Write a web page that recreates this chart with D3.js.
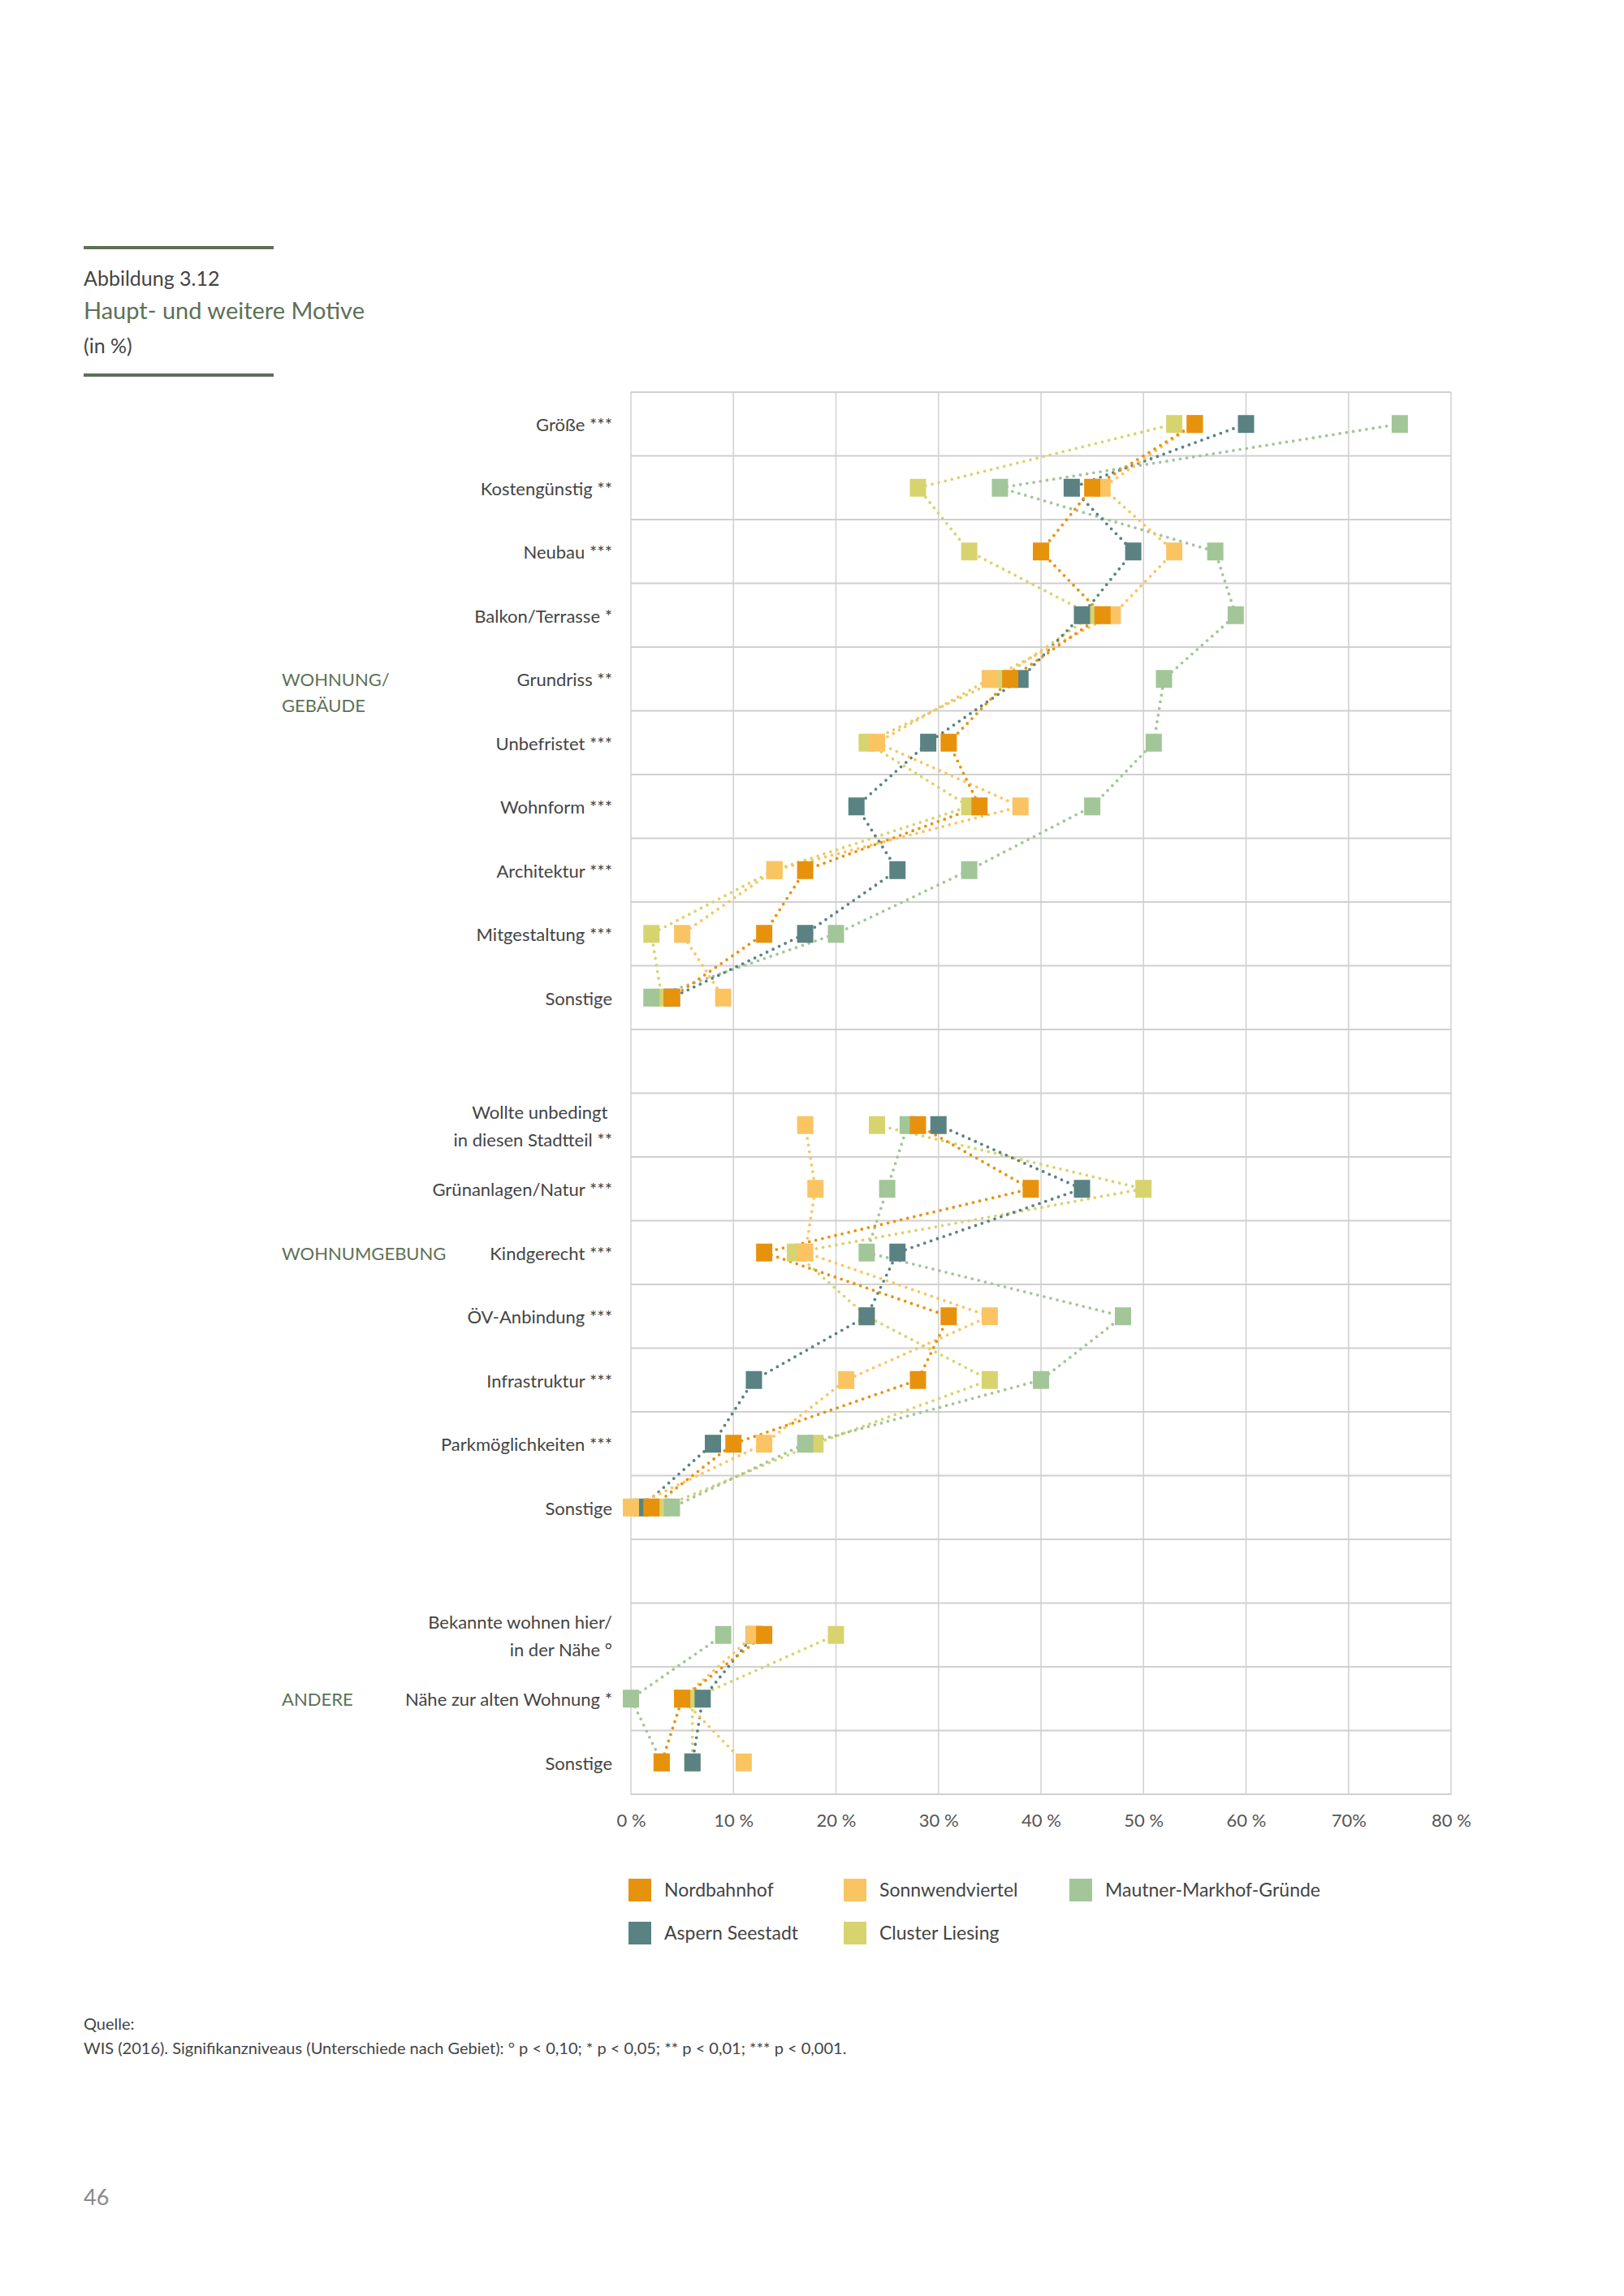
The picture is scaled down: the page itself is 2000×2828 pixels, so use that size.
<!DOCTYPE html>
<html>
<head>
<meta charset="utf-8">
<script src="https://cdn.jsdelivr.net/npm/d3@7"></script>
<style>
  body { margin: 0; background: #fff; }
  svg { display: block; font-family: Lato, "Open Sans", sans-serif; }
</style>
</head>
<body>
<svg id="page" width="2000" height="2828"></svg>
<script>
// categories top to bottom, "" = empty spacer row
const categories = [
  "Größe ***", "Kostengünstig **", "Neubau ***", "Balkon/Terrasse *", "Grundriss **",
  "Unbefristet ***", "Wohnform ***", "Architektur ***", "Mitgestaltung ***", "Sonstige",
  "",
  "Wollte unbedingt\u00a0|in diesen Stadtteil **", "Grünanlagen/Natur ***", "Kindgerecht ***",
  "ÖV-Anbindung ***", "Infrastruktur ***", "Parkmöglichkeiten ***", "Sonstige",
  "",
  "Bekannte wohnen hier/|in der Nähe °", "Nähe zur alten Wohnung *", "Sonstige"
];

const groups = [
  { row: 4, lines: ["WOHNUNG/", "GEBÄUDE"] },
  { row: 13, lines: ["WOHNUMGEBUNG"] },
  { row: 20, lines: ["ANDERE"] }
];

// values in %, null on spacer rows
const nordbahnhof     = [55, 45, 40, 46, 37, 31, 34, 17, 13, 4, null, 28, 39, 13, 31, 28, 10, 2, null, 13, 5, 3];
const asperSeestadt   = [60, 43, 49, 44, 38, 29, 22, 26, 17, 4, null, 30, 44, 26, 23, 12, 8, 1, null, 12, 7, 6];
const sonnwendviertel = [55, 46, 53, 47, 35, 24, 38, 14, 5, 9, null, 17, 18, 17, 35, 21, 13, 0, null, 12, 5, 11];
const clusterLiesing  = [53, 28, 33, 45, 36, 23, 33, 14, 2, 3, null, 24, 50, 16, 23, 35, 18, 3, null, 20, 6, 6];
const mautnerMarkhof  = [75, 36, 57, 59, 52, 51, 45, 33, 20, 2, null, 27, 25, 23, 48, 40, 17, 4, null, 9, 0, 3];

const xTicks = [0, 10, 20, 30, 40, 50, 60, 70, 80];
const xTickLabels = ["0 %", "10 %", "20 %", "30 %", "40 %", "50 %", "60 %", "70%", "80 %"];

// drawing order = bottom to top
const series = [
  { name: "Cluster Liesing", values: clusterLiesing, color: "#d7d46f" },
  { name: "Mautner-Markhof-Gründe", values: mautnerMarkhof, color: "#a2c698" },
  { name: "Aspern Seestadt", values: asperSeestadt, color: "#5a8282" },
  { name: "Sonnwendviertel", values: sonnwendviertel, color: "#fbc463" },
  { name: "Nordbahnhof", values: nordbahnhof, color: "#e7920d" }
];

const legendItems = [
  ["Nordbahnhof", 0, 0], ["Aspern Seestadt", 0, 1],
  ["Sonnwendviertel", 1, 0], ["Cluster Liesing", 1, 1],
  ["Mautner-Markhof-Gründe", 2, 0]
];

const green = "#5d7156", textCol = "#444";
const svg = d3.select("#page");
svg.append("rect").attr("width", 2000).attr("height", 2828).attr("fill", "#fff");

// header block
[305, 462].forEach(yy => svg.append("rect")
  .attr("x", 103).attr("y", yy - 2).attr("width", 234).attr("height", 4).attr("fill", green));
svg.append("text").attr("x", 103).attr("y", 352).attr("font-size", 25).attr("fill", textCol).text("Abbildung 3.12");
svg.append("text").attr("x", 103).attr("y", 393).attr("font-size", 29).attr("fill", green).text("Haupt- und weitere Motive");
svg.append("text").attr("x", 103).attr("y", 435).attr("font-size", 25).attr("fill", textCol).text("(in %)");

// scales
const x = d3.scaleLinear().domain([0, 80]).range([777, 1787]);
const rows = d3.range(categories.length);
const y = d3.scaleBand().domain(rows).range([483, 2210]);
const yc = i => y(i) + y.bandwidth() / 2;

// grid
const grid = svg.append("g");
grid.selectAll("line.v").data(xTicks).join("line")
  .attr("x1", d => x(d)).attr("x2", d => x(d))
  .attr("y1", 483).attr("y2", 2210)
  .attr("stroke", "#d0d0d0").attr("stroke-width", 1.5);
grid.selectAll("line.h").data(d3.range(categories.length + 1)).join("line")
  .attr("x1", x(0)).attr("x2", x(80))
  .attr("y1", d => 483 + d * y.bandwidth()).attr("y2", d => 483 + d * y.bandwidth())
  .attr("stroke", "#d0d0d0").attr("stroke-width", 2);

// x axis
const xAxis = svg.append("g").attr("transform", "translate(0,2210)")
  .call(d3.axisBottom(x).tickValues(xTicks).tickSize(0).tickPadding(24)
    .tickFormat((d, i) => xTickLabels[i]));
xAxis.select(".domain").remove();
xAxis.selectAll("text").attr("font-size", 22).attr("fill", "#555")
  .attr("font-family", "Lato, sans-serif");

// category labels
const labels = svg.append("g").attr("font-size", 22).attr("fill", textCol).attr("text-anchor", "end");
categories.forEach((c, i) => {
  if (!c) return;
  const parts = c.split("|");
  const t = labels.append("text").attr("x", 754).attr("y", yc(i) + 9 - (parts.length - 1) * 17);
  parts.forEach((p, j) => t.append("tspan").attr("x", 754).attr("dy", j ? 34 : 0).text(p));
});

// group labels
groups.forEach(g => {
  const t = svg.append("text").attr("x", 347).attr("y", yc(g.row) + 9)
    .attr("font-size", 22).attr("fill", green);
  g.lines.forEach((l, j) => t.append("tspan").attr("x", 347).attr("dy", j ? 32 : 0).text(l));
});

// dotted lines
const line = d3.line().defined(d => d.v != null).x(d => x(d.v)).y(d => yc(d.i));
const lineG = svg.append("g");
series.forEach(s => {
  lineG.append("path")
    .datum(s.values.map((v, i) => ({ v, i })))
    .attr("d", line).attr("fill", "none")
    .attr("stroke", s.color).attr("stroke-width", 3.8)
    .attr("stroke-linecap", "round").attr("stroke-dasharray", "0 8.3");
});

// markers
const mw = 20, mh = 22;
series.forEach(s => {
  svg.append("g").selectAll("rect")
    .data(s.values.map((v, i) => ({ v, i })).filter(d => d.v != null))
    .join("rect")
    .attr("x", d => x(d.v) - mw / 2).attr("y", d => yc(d.i) - mh / 2)
    .attr("width", mw).attr("height", mh).attr("fill", s.color);
});

// legend
const colorOf = name => series.find(s => s.name === name).color;
const legX = [774, 1039, 1317], legY = [2314, 2367];
const leg = svg.append("g");
legendItems.forEach(([name, c, r]) => {
  leg.append("rect").attr("x", legX[c]).attr("y", legY[r]).attr("width", 28).attr("height", 28)
    .attr("fill", colorOf(name));
  leg.append("text").attr("x", legX[c] + 44).attr("y", legY[r] + 22)
    .attr("font-size", 23).attr("fill", textCol).text(name);
});

// footer
svg.append("text").attr("x", 103).attr("y", 2500).attr("font-size", 20).attr("fill", textCol).text("Quelle:");
svg.append("text").attr("x", 103).attr("y", 2530).attr("font-size", 20).attr("fill", textCol)
  .text("WIS (2016). Signifikanzniveaus (Unterschiede nach Gebiet): ° p < 0,10; * p < 0,05; ** p < 0,01; *** p < 0,001.");
svg.append("text").attr("x", 103).attr("y", 2716).attr("font-size", 27).attr("fill", "#8a8a8a").text("46");
</script>
</body>
</html>
